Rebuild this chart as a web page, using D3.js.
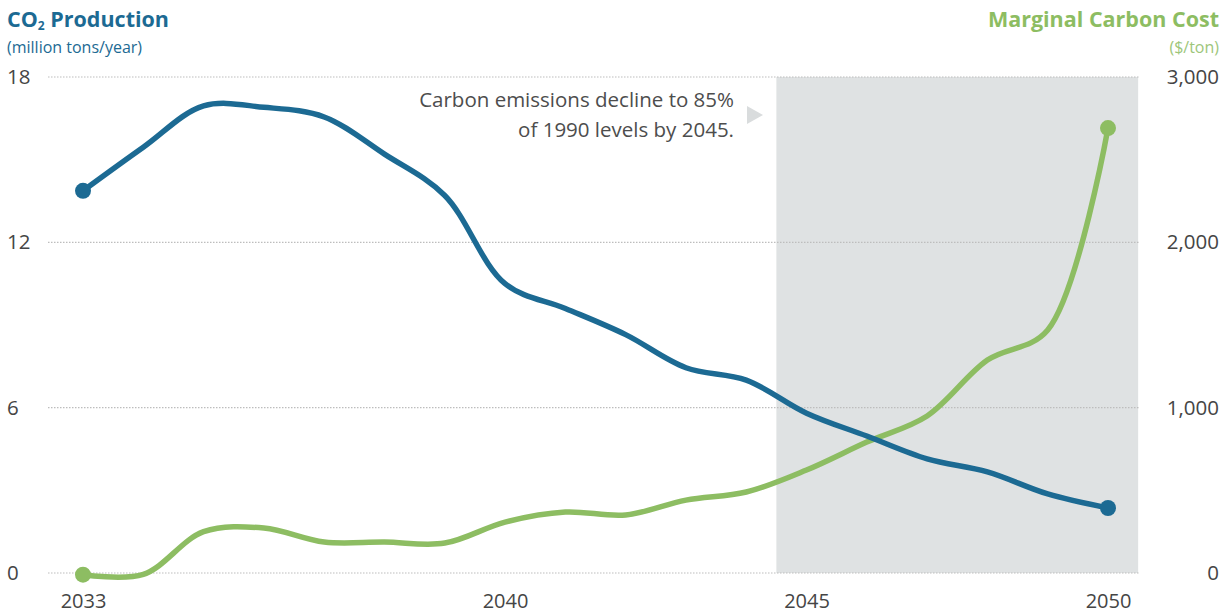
<!DOCTYPE html>
<html>
<head>
<meta charset="utf-8">
<script src="https://cdn.jsdelivr.net/npm/d3@7"></script>
<style>
  html, body { margin: 0; padding: 0; background: #ffffff; }
  svg { display: block; }
  text { font-family: "Open Sans", "Noto Sans", sans-serif; }
</style>
</head>
<body>
<svg id="chart" width="1229" height="616"></svg>
<script>
// ---- data ----
const years = [2033, 2034, 2035, 2036, 2037, 2038, 2039, 2040, 2041, 2042, 2043, 2044, 2045, 2046, 2047, 2048, 2049, 2050];
const co2Production = [13.87, 15.45, 16.95, 16.9, 16.55, 15.2, 13.7, 10.5, 9.6, 8.65, 7.45, 7.0, 5.8, 4.97, 4.14, 3.67, 2.87, 2.36];
const carbonCost = [-10, -8, 250, 272, 187, 187, 181, 308, 369, 351, 441, 490, 623, 792, 950, 1288, 1470, 2691];
const leftTicks = [0, 6, 12, 18];
const rightTicks = [0, 1000, 2000, 3000];
const xTicks = [2033, 2040, 2045, 2050];
const shadeYears = [2044.5, 2050.5];
const annotationLines = ["Carbon emissions decline to 85%", "of 1990 levels by 2045."];

// ---- styles ----
const BLUE = "#1c6a93";
const GREEN = "#8dbd62";
const GREEN_LIGHT = "#9dc67a";
const TEXT = "#454545";
const FONT = "'Open Sans', 'Noto Sans', sans-serif";

const svg = d3.select("#chart");

const x = d3.scaleLinear().domain([2033, 2050]).range([83, 1108]);
const yL = d3.scaleLinear().domain([0, 18]).range([573, 77]);
const yR = d3.scaleLinear().domain([0, 3000]).range([573, 77]);

// shaded period
svg.append("rect")
  .attr("x", x(shadeYears[0]))
  .attr("y", yL(18))
  .attr("width", x(shadeYears[1]) - x(shadeYears[0]))
  .attr("height", yL(0) - yL(18))
  .attr("fill", "#dfe2e3");

// gridlines
svg.append("g").selectAll("line").data(leftTicks).join("line")
  .attr("x1", 48).attr("x2", 1140)
  .attr("y1", d => yL(d)).attr("y2", d => yL(d))
  .attr("stroke", "#bdbdbd").attr("stroke-width", 1.2)
  .attr("stroke-dasharray", "1.5,1.5");

// left axis labels
const leftAxis = d3.axisLeft(yL).tickValues(leftTicks).tickSize(0).tickPadding(0);
const gL = svg.append("g").attr("transform", "translate(7,0)").call(leftAxis);
gL.select(".domain").remove();
gL.selectAll("text").attr("text-anchor", "start").attr("x", 0)
  .attr("fill", TEXT).style("font-size", "20.5px").style("font-family", FONT);

// right axis labels
const rightAxis = d3.axisRight(yR).tickValues(rightTicks).tickSize(0).tickPadding(0)
  .tickFormat(d3.format(","));
const gR = svg.append("g").attr("transform", "translate(1219,0)").call(rightAxis);
gR.select(".domain").remove();
gR.selectAll("text").attr("text-anchor", "end").attr("x", 0)
  .attr("fill", TEXT).style("font-size", "20.5px").style("font-family", FONT);

// bottom axis labels
const bottomAxis = d3.axisBottom(x).tickValues(xTicks).tickSize(0).tickPadding(0).tickFormat(d3.format("d"));
const gB = svg.append("g").attr("transform", "translate(0,594)").call(bottomAxis);
gB.select(".domain").remove();
gB.selectAll("text").attr("fill", TEXT).style("font-size", "20px").style("font-family", FONT);

// lines
const lineL = d3.line().x((d, i) => x(years[i])).y(d => yL(d)).curve(d3.curveCatmullRom.alpha(0.5));
const lineR = d3.line().x((d, i) => x(years[i])).y(d => yR(d)).curve(d3.curveCatmullRom.alpha(0.5));

svg.append("path").datum(carbonCost).attr("d", lineR)
  .attr("fill", "none").attr("stroke", GREEN).attr("stroke-width", 5.5)
  .attr("stroke-linecap", "round").attr("stroke-linejoin", "round");
svg.append("path").datum(co2Production).attr("d", lineL)
  .attr("fill", "none").attr("stroke", BLUE).attr("stroke-width", 5.5)
  .attr("stroke-linecap", "round").attr("stroke-linejoin", "round");

// end dots
const last = years.length - 1;
svg.append("g").selectAll("circle").data([0, last]).join("circle")
  .attr("cx", i => x(years[i])).attr("cy", i => yL(co2Production[i]))
  .attr("r", 8).attr("fill", BLUE);
svg.append("g").selectAll("circle").data([0, last]).join("circle")
  .attr("cx", i => x(years[i])).attr("cy", i => yR(carbonCost[i]))
  .attr("r", 8).attr("fill", GREEN);

// titles
const tL = svg.append("text").attr("x", 7).attr("y", 27)
  .attr("fill", BLUE).style("font-size", "21.5px").style("font-weight", "700");
tL.append("tspan").text("CO");
tL.append("tspan").text("2").style("font-size", "12px").attr("dy", 3);
tL.append("tspan").text(" Production").attr("dy", -3);
svg.append("text").attr("x", 7).attr("y", 53)
  .attr("fill", BLUE).style("font-size", "16px").text("(million tons/year)");

svg.append("text").attr("x", 1219).attr("y", 27).attr("text-anchor", "end")
  .attr("fill", GREEN).style("font-size", "21.5px").style("font-weight", "700")
  .text("Marginal Carbon Cost");
svg.append("text").attr("x", 1219).attr("y", 53).attr("text-anchor", "end")
  .attr("fill", GREEN_LIGHT).style("font-size", "16px").text("($/ton)");

// annotation
svg.append("g").selectAll("text").data(annotationLines).join("text")
  .attr("x", 734).attr("y", (d, i) => 107 + i * 30)
  .attr("text-anchor", "end").attr("fill", "#4d4d4d")
  .style("font-size", "20.5px").text(d => d);
svg.append("path").attr("d", "M747,106 L763,115 L747,124 Z").attr("fill", "#d9dcdd");
</script>
</body>
</html>
